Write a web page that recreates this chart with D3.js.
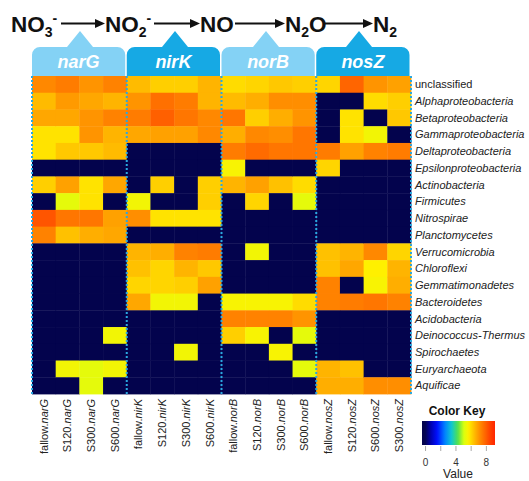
<!DOCTYPE html>
<html><head><meta charset="utf-8">
<script src="https://cdn.jsdelivr.net/npm/d3@7"></script>
<style>
body{margin:0;background:#fff;}
svg{display:block;font-family:"Liberation Sans",Arial,sans-serif;}
</style></head>
<body><svg id="c" width="529" height="481"></svg>
<script>
// ---------- data ----------
const taxa = ["unclassified","Alphaproteobacteria","Betaproteobacteria","Gammaproteobacteria",
  "Deltaproteobacteria","Epsilonproteobacteria","Actinobacteria","Firmicutes","Nitrospirae",
  "Planctomycetes","Verrucomicrobia","Chloroflexi","Gemmatimonadetes","Bacteroidetes",
  "Acidobacteria","Deinococcus-Thermus","Spirochaetes","Euryarchaeota","Aquificae"];
const genes = ["narG","nirK","norB","nosZ"];
const narGSamples = ["fallow","S120","S300","S600"];
const nirKSamples = ["fallow","S120","S300","S600"];
const norBSamples = ["fallow","S120","S300","S600"];
const nosZSamples = ["fallow","S120","S600","S300"];
// log-abundance values, one row per taxon, columns in sample order
const narGValues = [
  [7.3,7.5,7.1,7.4],[6.5,7.0,6.8,6.6],[6.8,6.8,7.1,7.4],[5.9,5.9,7.1,6.6],[5.9,6.3,6.3,6.5],
  [0,0,0,0],[6.2,6.9,5.9,6.8],[0,5.3,5.9,0],[8.2,7.6,7.6,6.9],[7.4,6.4,6.7,6.8],
  [0,0,0,0],[0,0,0,0],[0,0,0,0],[0,0,0,0],[0,0,0,0],[0,0,0,5.5],[0,0,0,0],[0,5.5,5.3,5.5],[0,0,5.3,0]];
const nirKValues = [
  [6.5,6.2,6.2,6.6],[7.1,7.7,7.5,6.6],[7.5,8.0,7.6,7.3],[6.8,6.9,6.9,7.3],[0,0,0,0],
  [0,0,0,0],[0,6.2,0,6.2],[5.5,0,0,6.2],[7.2,5.9,5.9,5.9],[0,0,0,0],
  [6.6,6.7,7.4,7.5],[6.4,6.1,6.6,6.3],[6.1,6.1,6.2,6.9],[6.8,5.5,5.5,0],[0,0,0,0],
  [0,0,0,0],[0,0,5.5,0],[0,0,0,0],[0,0,0,0]];
const norBValues = [
  [6.0,6.1,6.3,6.2],[6.5,6.7,7.2,7.2],[7.6,6.2,6.7,7.1],[6.7,7.3,7.2,7.6],[7.5,7.8,7.6,7.6],
  [5.6,0,0,0],[6.6,6.9,6.4,6.0],[0,6.1,0,5.3],[0,0,0,0],[0,0,0,0],
  [0,5.5,0,0],[0,0,0,0],[0,0,0,0],[5.6,5.6,5.6,6.0],[7.4,7.4,7.4,7.1],
  [6.2,5.6,0,5.3],[0,0,5.6,0],[0,0,0,5.3],[0,0,0,0]];
const nosZValues = [
  [6.1,7.9,7.1,6.9],[0,0,6.0,6.2],[0,5.9,0,6.3],[0,5.9,5.5,0],[7.5,6.9,7.4,7.5],
  [6.1,0,0,0],[0,0,0,0],[0,0,0,0],[0,0,0,0],[0,0,0,0],
  [6.4,6.6,7.3,6.1],[6.4,6.8,5.7,6.6],[7.4,0,5.6,6.7],[7.4,7.5,7.6,7.4],[0,0,0,0],
  [0,0,0,0],[0,0,0,0],[6.6,6.4,0,0],[6.7,6.7,7.2,7.2]];
const keyTicks = [0,2,4,6,8];
const keyLabels = [0,4,8];

// ---------- build ----------
const geneSamples = {narG:narGSamples,nirK:nirKSamples,norB:norBSamples,nosZ:nosZSamples};
const geneValues = {narG:narGValues,nirK:nirKValues,norB:norBValues,nosZ:nosZValues};
const columns = [];
genes.forEach(g => geneSamples[g].forEach((s,i) => columns.push({id:s+"."+g, sample:s, gene:g, idx:i})));
const cells = [];
columns.forEach(c => taxa.forEach((t,r) => cells.push({col:c.id, taxon:t, v:geneValues[c.gene][r][c.idx]})));

const svg = d3.select("#c");
const L=32, R=411, T=76, B=394;
const x = d3.scaleBand().domain(columns.map(c=>c.id)).range([L,R]).padding(0);
const y = d3.scaleBand().domain(taxa).range([T,B]).padding(0);
const color = d3.scaleLinear()
  .domain([0,0.7,1.6,2.6,3.5,4.3,5.1,5.7,6.3,7.0,7.7,8.5,9.3])
  .range(["#03034d","#0000a8","#0010ff","#0080ff","#10c8d0","#50e050","#d8ff10","#fff000","#ffc800","#ff9a00","#ff7000","#ff4400","#ff2000"])
  .clamp(true);

// cells
svg.append("g").selectAll("rect").data(cells).join("rect")
  .attr("x",d=>x(d.col)).attr("y",d=>y(d.taxon))
  .attr("width",x.bandwidth()+0.4).attr("height",y.bandwidth()+0.4)
  .attr("fill",d=>color(d.v));

// gene blocks
const blockW = x.bandwidth()*4;
const tabColors = {narG:"#84d2f5",nirK:"#16a9e4",norB:"#84d2f5",nosZ:"#16a9e4"};
const tabTop = 47, apexY = 31, rad = 8;
const apexX = {narG:80,nirK:175,norB:266,nosZ:359};
genes.forEach((g,gi) => {
  const x0 = x(geneSamples[g][0]+"."+g);
  const x1 = x0+blockW - 1.5;
  const ax = apexX[g];
  const p = d3.path();
  p.moveTo(x0, T);
  p.lineTo(x0, tabTop+rad);
  p.arcTo(x0, tabTop, x0+rad, tabTop, rad);
  p.lineTo(ax-13, tabTop);
  p.lineTo(ax, apexY);
  p.lineTo(ax+13, tabTop);
  p.lineTo(x1-rad, tabTop);
  p.arcTo(x1, tabTop, x1, tabTop+rad, rad);
  p.lineTo(x1, T);
  p.closePath();
  svg.append("path").attr("d",p.toString()).attr("fill",tabColors[g]);
  svg.append("text").attr("x",(x0+x1)/2).attr("y",68)
    .attr("text-anchor","middle").attr("fill","#fff")
    .attr("font-size",18).attr("font-weight","bold").attr("font-style","italic")
    .text(g);
});

// dotted separators
const seps = [L].concat(genes.map((g,i)=>L+blockW*(i+1)));
svg.append("g").selectAll("line").data(seps).join("line")
  .attr("x1",d=>d).attr("x2",d=>d).attr("y1",T).attr("y2",B+2)
  .attr("stroke","#2aa8e0").attr("stroke-width",2).attr("stroke-dasharray","2,2");

// row labels
svg.append("g").selectAll("text").data(taxa).join("text")
  .attr("x",415).attr("y",d=>y(d)+y.bandwidth()/2).attr("dy","0.35em")
  .attr("font-size",11).attr("fill","#222")
  .attr("font-style",d=>d==="unclassified"?"normal":"italic")
  .text(d=>d);

// column labels
const cl = svg.append("g").selectAll("text").data(columns).join("text")
  .attr("transform",d=>`translate(${x(d.id)+x.bandwidth()/2},399) rotate(-90)`)
  .attr("text-anchor","end").attr("dy","0.35em")
  .attr("font-size",11).attr("fill","#222");
cl.append("tspan").text(d=>d.sample+".");
cl.append("tspan").attr("font-style","italic").text(d=>d.gene);

// pathway header
const hdr = svg.append("g").attr("font-weight","bold").attr("fill","#111");
const big = 22.5, small = 14;
function chem(xp, parts){
  const t = hdr.append("text").attr("x",xp).attr("y",32).attr("font-size",big);
  parts.forEach(p=>{
    const s = t.append("tspan").text(p.t);
    if(p.sub){ s.attr("font-size",small).attr("dy",5); }
    else if(p.sup){ s.attr("font-size",small).attr("dy",-14); }
    else if(p.back){ s.attr("dy",p.back); }
  });
}
chem(11,[{t:"NO"},{t:"3",sub:1},{t:"-",sup:1}]);
chem(105,[{t:"NO"},{t:"2",sub:1},{t:"-",sup:1}]);
chem(200,[{t:"NO"}]);
chem(285,[{t:"N"},{t:"2",sub:1},{t:"O",back:-5}]);
chem(373,[{t:"N"},{t:"2",sub:1}]);
const arrows = [[61,105],[154,200],[235,285],[325,373]];
arrows.forEach(([a,b])=>{
  hdr.append("line").attr("x1",a).attr("x2",b-7).attr("y1",23.5).attr("y2",23.5)
    .attr("stroke","#111").attr("stroke-width",2);
  hdr.append("path").attr("d",`M${b},23.5 L${b-10},19 L${b-10},28 Z`).attr("fill","#111");
});

// color key
const kx = d3.scaleLinear().domain([-0.4,9.2]).range([422,495]);
const defs = svg.append("defs");
const grad = defs.append("linearGradient").attr("id","kg");
d3.range(0,41).forEach(i=>{
  const v = -0.4 + 9.6*i/40;
  grad.append("stop").attr("offset",(i/40*100)+"%").attr("stop-color",color(Math.max(0,v)));
});
svg.append("text").attr("x",457).attr("y",415).attr("text-anchor","middle")
  .attr("font-size",12).attr("font-weight","bold").attr("fill","#111").text("Color Key");
svg.append("rect").attr("x",kx.range()[0]).attr("y",421).attr("width",kx.range()[1]-kx.range()[0])
  .attr("height",24).attr("fill","url(#kg)");
const kax = svg.append("g").attr("transform","translate(0,446)")
  .call(d3.axisBottom(kx).tickValues(keyTicks).tickSize(5).tickPadding(8)
    .tickFormat(d=>keyLabels.includes(d)?d:""));
kax.select(".domain").remove();
kax.selectAll("line").attr("stroke","#aaa");
kax.selectAll("text").attr("font-size",10).attr("fill","#333").attr("font-family","Liberation Sans, Arial, sans-serif");
svg.append("text").attr("x",458).attr("y",478).attr("text-anchor","middle")
  .attr("font-size",12).attr("fill","#222").text("Value");
</script></body></html>
